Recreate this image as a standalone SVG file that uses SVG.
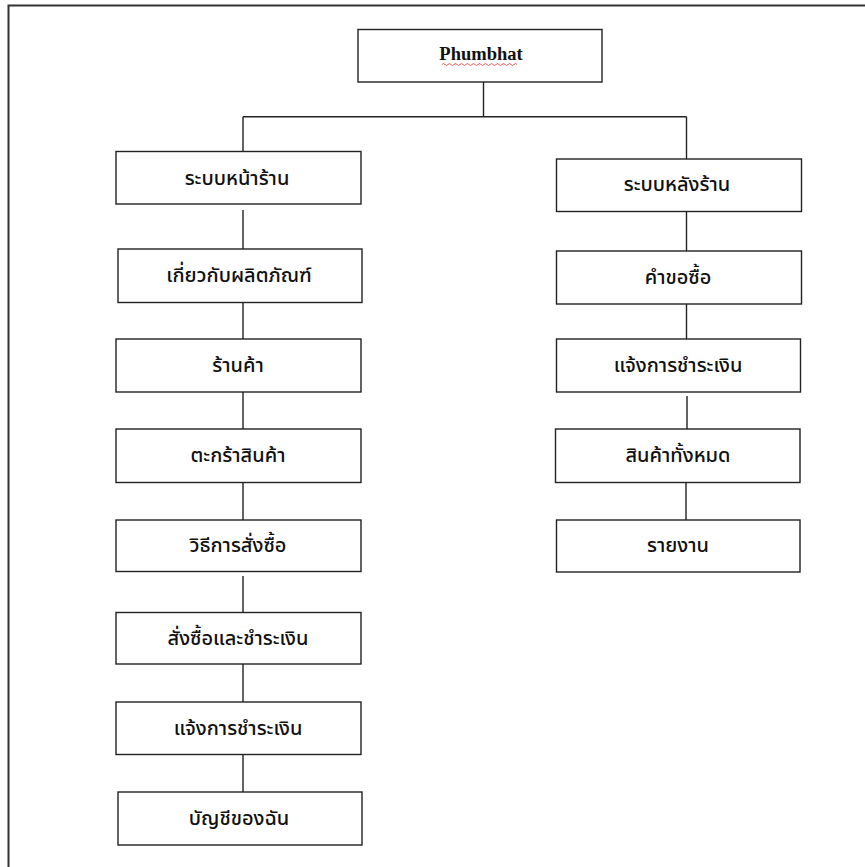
<svg xmlns="http://www.w3.org/2000/svg" width="865" height="867" viewBox="0 0 865 867">
<style>
.box{fill:#fff;stroke:#222;stroke-width:1.4}
.lbl{font-family:Tahoma,"Noto Sans Thai","Noto Sans","DejaVu Sans",sans-serif;font-size:20px;font-weight:500;fill:#111;text-anchor:middle}
.ttl{font-family:"Liberation Serif",serif;font-size:18.5px;font-weight:600;fill:#111;text-anchor:middle}
.ln{stroke:#222;stroke-width:1.4;fill:none}
</style>
<rect x="0" y="0" width="865" height="867" fill="#fff"/>
<path d="M8.5 880 V5.5 H880" fill="none" stroke="#333" stroke-width="2"/>
<g id="connectors">
<path class="ln" d="M483.5 82 V116.7 M243 116.7 H686.5 M243 116.7 V151.5 M686.5 116.7 V159"/>
<path class="ln" d="M243 210 V249 M243 302.5 V339 M243 392 V429 M243 482.5 V520 M243 576 V612.5 M243 664 V702 M243 754.5 V792"/>
<path class="ln" d="M686.5 211.5 V251 M686.5 304 V339 M687 396 V429 M686 482.5 V520"/>
</g>
<g id="n0"><rect class="box" x="358" y="29.5" width="244" height="52.5"/><text class="ttl" x="481" y="60">Phumbhat</text><path d="M442 64.5 q1.5 -2 3 0 t3 0 t3 0 t3 0 t3 0 t3 0 t3 0 t3 0 t3 0 t3 0 t3 0 t3 0 t3 0 t3 0 t3 0 t3 0 t3 0 t3 0 t3 0 t3 0 t3 0 t3 0 t3 0 t3 0 t3 0" fill="none" stroke="#e33" stroke-width="0.8"/></g>
<g id="l1"><rect class="box" x="116" y="151.5" width="245" height="52.5"/><text class="lbl" x="237" y="185">ระบบหน้าร้าน</text></g>
<g id="l2"><rect class="box" x="118" y="249" width="244" height="53.5"/><text class="lbl" x="239" y="282">เกี่ยวกับผลิตภัณฑ์</text></g>
<g id="l3"><rect class="box" x="116" y="339" width="245" height="53"/><text class="lbl" x="238" y="372">ร้านค้า</text></g>
<g id="l4"><rect class="box" x="116" y="429" width="245" height="53.5"/><text class="lbl" x="238" y="462">ตะกร้าสินค้า</text></g>
<g id="l5"><rect class="box" x="116" y="520" width="245" height="51.5"/><text class="lbl" x="238" y="552">วิธีการสั่งซื้อ</text></g>
<g id="l6"><rect class="box" x="116" y="612.5" width="245" height="51.5"/><text class="lbl" x="238" y="645">สั่งซื้อและชำระเงิน</text></g>
<g id="l7"><rect class="box" x="116" y="702" width="245" height="52.5"/><text class="lbl" x="238" y="735">แจ้งการชำระเงิน</text></g>
<g id="l8"><rect class="box" x="118" y="792" width="244" height="53"/><text class="lbl" x="239" y="825">บัญชีของฉัน</text></g>
<g id="r1"><rect class="box" x="556.5" y="159" width="245" height="52.5"/><text class="lbl" x="677" y="191">ระบบหลังร้าน</text></g>
<g id="r2"><rect class="box" x="556.5" y="251" width="245" height="53"/><text class="lbl" x="678" y="284">คำขอซื้อ</text></g>
<g id="r3"><rect class="box" x="556.5" y="339" width="244" height="53"/><text class="lbl" x="678" y="372">แจ้งการชำระเงิน</text></g>
<g id="r4"><rect class="box" x="555.5" y="429" width="244.5" height="53.5"/><text class="lbl" x="678" y="462">สินค้าทั้งหมด</text></g>
<g id="r5"><rect class="box" x="556.5" y="520" width="243.5" height="52"/><text class="lbl" x="678" y="552">รายงาน</text></g>
</svg>
